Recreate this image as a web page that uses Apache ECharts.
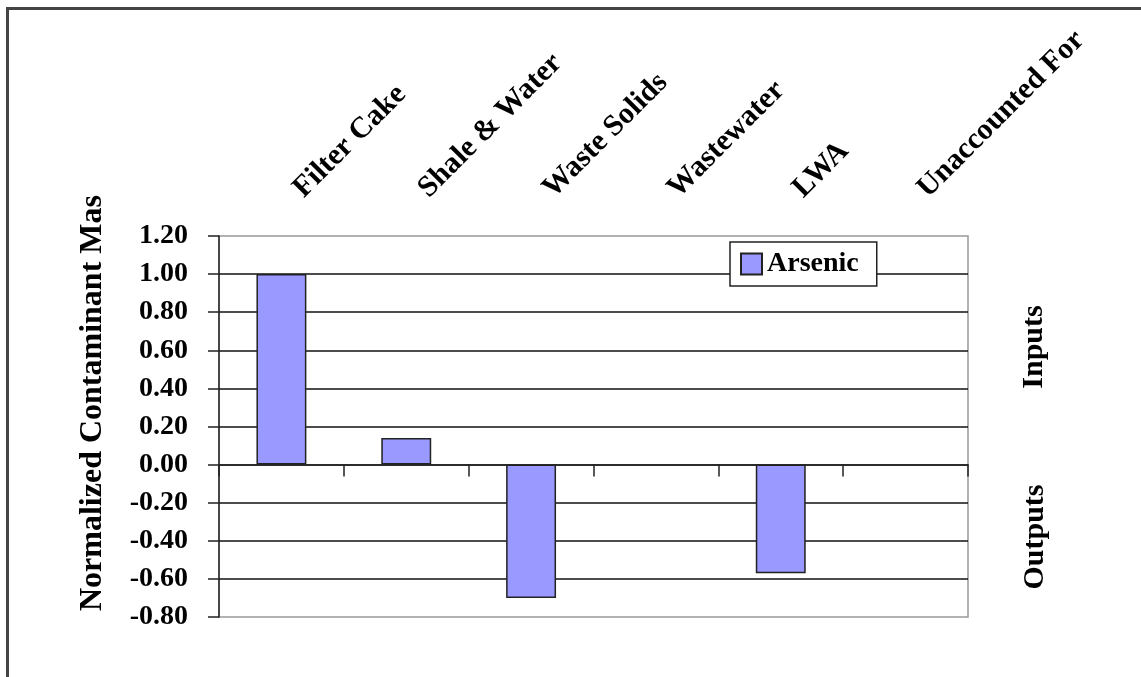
<!DOCTYPE html>
<html>
<head>
<meta charset="utf-8">
<script src="https://cdn.jsdelivr.net/npm/echarts@6/dist/echarts.min.js"></script>
<style>
  html, body { margin: 0; padding: 0; background: #fff; }
  #chart { width: 1141px; height: 677px; }
</style>
</head>
<body>
<div id="chart"></div>
<script>
// 类别 / 数值
const categories = ['Filter Cake', 'Shale & Water', 'Waste Solids', 'Wastewater', 'LWA', 'Unaccounted For']
const arsenic = [1.00, 0.14, -0.70, 0, -0.57, 0]
const yMin = -0.8
const yMax = 1.2
const yStep = 0.2

const serif = "'Liberation Serif', 'Times New Roman', serif"

const chart = echarts.init(document.getElementById('chart'))

// 值为0的柱子不画边框
const barData = arsenic.map(v => v === 0 ? { value: v, itemStyle: { borderWidth: 0 } } : v)

const option = {
  backgroundColor: '#fff',
  animation: false,
  grid: {
    left: 219,
    top: 236,
    right: 173,
    bottom: 60,
    show: true,
    borderColor: '#999',
    borderWidth: 1.5,
    backgroundColor: 'transparent'
  },
  legend: {
    data: ['Arsenic'],
    left: 730,
    top: 242,
    orient: 'vertical',
    icon: 'rect',
    itemWidth: 21,
    itemHeight: 21,
    itemGap: 5,
    padding: [8, 18, 8, 10],
    borderColor: '#222',
    borderWidth: 1.5,
    backgroundColor: '#fff',
    textStyle: { fontFamily: serif, fontSize: 28, fontWeight: 'bold', color: '#000' }
  },
  xAxis: [
    {
      // 0 线上的坐标轴
      type: 'category',
      data: categories,
      position: 'bottom',
      axisLine: { onZero: true, lineStyle: { color: '#222', width: 1.5 } },
      axisTick: { show: true, length: 12, lineStyle: { color: '#222', width: 1.5 } },
      axisLabel: { show: false },
      splitLine: { show: false }
    },
    {
      // 顶部的斜体标签
      type: 'category',
      data: categories,
      position: 'top',
      axisLine: { show: false },
      axisTick: { show: false },
      axisLabel: {
        interval: 0,
        rotate: -45,
        margin: 26,
        padding: [0, 0, 0, 24],
        fontFamily: serif,
        fontSize: 30,
        fontWeight: 'bold',
        color: '#000'
      },
      splitLine: { show: false }
    }
  ],
  yAxis: {
    type: 'value',
    min: yMin,
    max: yMax,
    interval: yStep,
    axisLine: { show: true, lineStyle: { color: '#222', width: 1.5 } },
    axisTick: { show: true, length: 11, lineStyle: { color: '#222', width: 1.5 } },
    axisLabel: {
      margin: 31,
      fontFamily: serif,
      fontSize: 28,
      fontWeight: 'bold',
      color: '#000',
      formatter: v => v.toFixed(2)
    },
    splitLine: {
      show: true,
      showMinLine: false,
      showMaxLine: false,
      lineStyle: { color: '#111', width: 1.5 }
    }
  },
  series: [
    {
      name: 'Arsenic',
      type: 'bar',
      data: barData,
      xAxisIndex: 0,
      barWidth: '40%',
      itemStyle: { color: '#9999ff', borderColor: '#222', borderWidth: 1.5 }
    }
  ],
  graphic: [
    {
      type: 'rect',
      silent: true,
      shape: { x: 7.5, y: 8.5, width: 1300, height: 1000 },
      style: { fill: 'none', stroke: '#444', lineWidth: 3 }
    },
    {
      type: 'text',
      x: 93,
      y: 403,
      rotation: Math.PI / 2,
      style: {
        text: 'Normalized Contaminant Mas',
        font: 'bold 32px ' + serif,
        fill: '#000',
        align: 'center', verticalAlign: 'middle',
        textAlign: 'center', textVerticalAlign: 'middle'
      }
    },
    {
      type: 'text',
      x: 1034,
      y: 347,
      rotation: Math.PI / 2,
      style: {
        text: 'Inputs',
        font: 'bold 30px ' + serif,
        fill: '#000',
        align: 'center', verticalAlign: 'middle',
        textAlign: 'center', textVerticalAlign: 'middle'
      }
    },
    {
      type: 'text',
      x: 1035,
      y: 537,
      rotation: Math.PI / 2,
      style: {
        text: 'Outputs',
        font: 'bold 30px ' + serif,
        fill: '#000',
        align: 'center', verticalAlign: 'middle',
        textAlign: 'center', textVerticalAlign: 'middle'
      }
    }
  ]
}

chart.setOption(option)
</script>
</body>
</html>
